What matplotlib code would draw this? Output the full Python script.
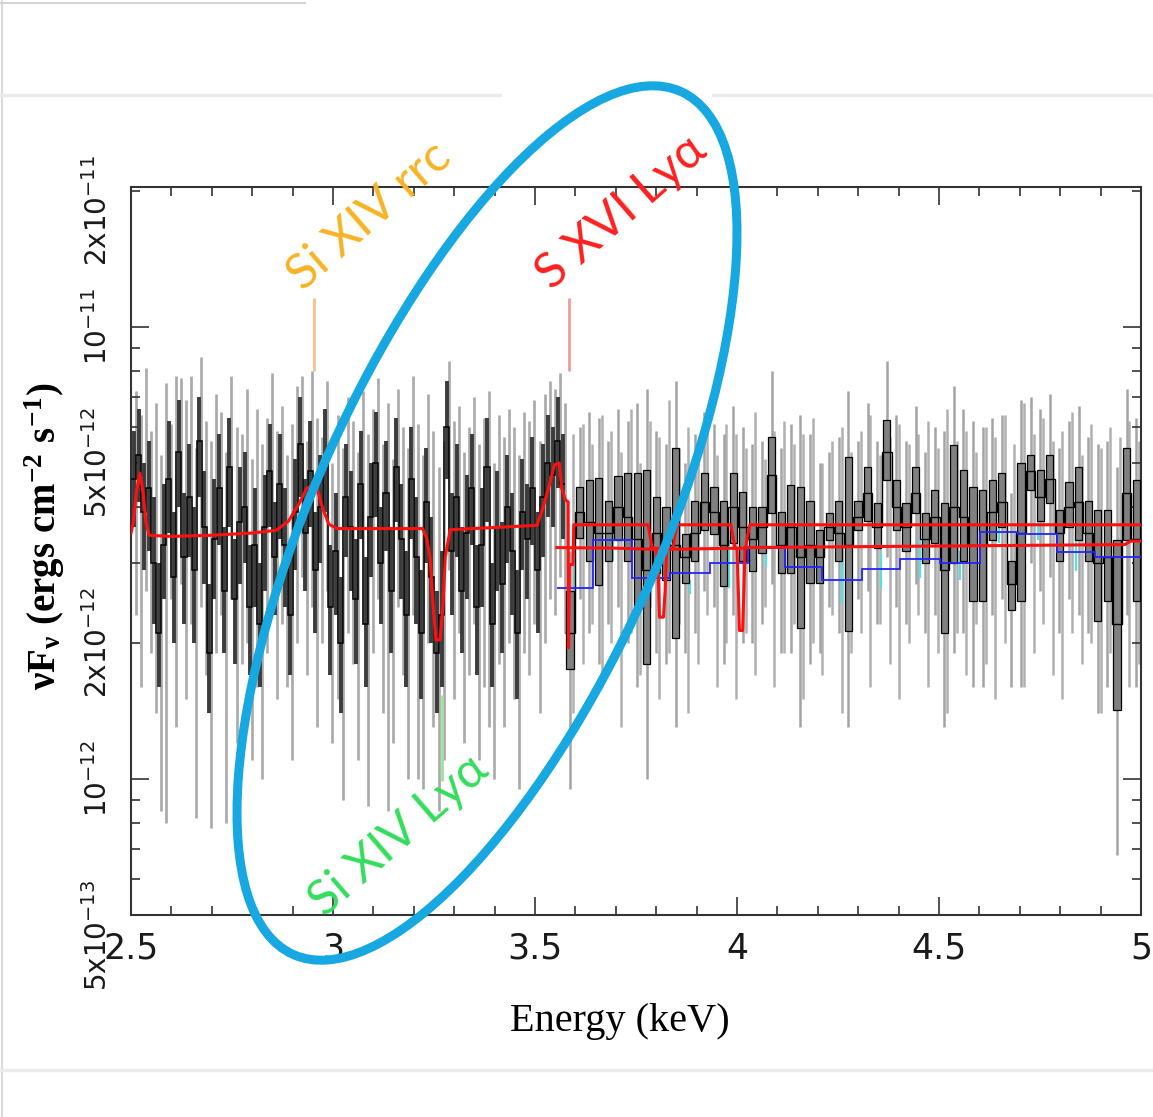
import numpy as np
import matplotlib
matplotlib.use("Agg")
import matplotlib.pyplot as plt
from matplotlib.patches import Ellipse
from matplotlib.transforms import ScaledTranslation

UNIT = 1e-12  # flux values below are in units of 1e-12 ergs cm^-2 s^-1

# ---- fine-binned part of the spectrum (2.5 - 3.575 keV) -------------------
FINE_START, FINE_WIDTH = 2.5, 0.0125
fine_val = [4.6, 5.2, 3.9, 4.4, 3.0, 2.1, 3.3, 4.6, 2.8, 5.3,
            3.1, 4.2, 2.9, 5.6, 3.6, 1.9, 3.4, 4.4, 2.6, 4.9,
            2.5, 3.7, 4.0, 2.4, 3.3, 2.2, 3.6, 4.8, 3.1, 4.5,
            3.3, 2.3, 3.9, 5.5, 3.5, 4.8, 2.9, 4.0, 5.1, 2.4,
            3.2, 2.0, 4.2, 3.6, 2.5, 4.5, 2.2, 3.8, 5.0, 3.0,
            4.3, 2.6, 4.9, 3.4, 2.3, 4.6, 3.1, 2.1, 4.1, 2.8,
            1.9, 2.3, 6.0, 3.2, 4.2, 2.6, 3.5, 4.4, 2.4, 3.3,
            4.9, 2.2, 3.6, 2.7, 4.0, 3.2, 2.1, 3.9, 3.4, 4.4,
            2.9, 4.2, 5.0, 4.7, 5.6, 4.5]
fine_lo = [3.6, 4.1, 2.9, 3.2, 2.2, 1.6, 2.5, 3.5, 2.0, 4.0,
           2.2, 3.1, 2.0, 4.2, 2.7, 1.4, 2.5, 3.3, 1.9, 3.6,
           1.8, 2.7, 3.0, 1.7, 2.4, 1.6, 2.6, 3.6, 2.3, 3.4,
           2.4, 1.7, 2.9, 4.2, 2.6, 3.6, 2.1, 3.0, 3.9, 1.7,
           2.3, 1.4, 3.1, 2.6, 1.8, 3.4, 1.6, 2.8, 3.8, 2.2,
           3.2, 1.9, 3.7, 2.5, 1.6, 3.4, 2.2, 1.5, 3.0, 2.0,
           1.4, 1.6, 4.6, 2.3, 3.1, 1.9, 2.5, 3.3, 1.7, 2.4,
           3.7, 1.6, 2.6, 1.9, 3.0, 2.3, 1.5, 2.9, 2.5, 3.3,
           2.1, 3.1, 3.8, 3.6, 4.4, 3.4]
fine_hi = [5.9, 6.6, 5.0, 5.6, 4.2, 3.0, 4.5, 6.2, 3.9, 6.9,
           4.3, 5.5, 4.0, 7.0, 4.8, 2.7, 4.6, 5.8, 3.6, 6.3,
           3.4, 4.9, 5.3, 3.3, 4.4, 3.0, 4.7, 6.1, 4.1, 5.8,
           4.4, 3.2, 5.1, 7.0, 4.6, 6.2, 3.9, 5.2, 6.6, 3.3,
           4.3, 2.8, 5.5, 4.8, 3.4, 5.9, 3.1, 5.0, 6.5, 4.0,
           5.6, 3.6, 6.3, 4.5, 3.2, 6.0, 4.2, 2.9, 5.4, 3.8,
           2.6, 3.2, 7.6, 4.3, 5.5, 3.6, 4.7, 5.8, 3.3, 4.4,
           6.3, 3.0, 4.8, 3.7, 5.2, 4.3, 2.9, 5.1, 4.5, 5.7,
           3.9, 5.5, 6.4, 6.0, 7.0, 5.8]
# second grating order, same binning (drawn between the first-order bins)
fine2_lo = [2.3, 1.6, 2.6, 1.9, 1.4, 0.85, 0.8, 2.5, 1.3, 2.7,
            1.5, 2.2, 0.82, 2.4, 1.7, 0.78, 1.9, 2.3, 0.8, 2.5,
            1.2, 1.8, 2.0, 1.1, 1.6, 1.0, 1.9, 2.6, 1.5, 2.2,
            1.6, 1.1, 2.0, 2.8, 1.7, 2.4, 1.3, 2.0, 2.6, 1.2,
            1.5, 0.9, 2.1, 1.8, 1.1, 2.2, 0.87, 1.9, 2.5, 1.4,
            0.85, 1.2, 2.4, 1.7, 1.0, 2.3, 1.0, 0.95, 2.0, 1.3,
            0.85, 1.1, 2.9, 1.5, 2.1, 1.2, 1.7, 2.2, 1.1, 1.6,
            1.3, 1.0, 1.8, 1.3, 2.0, 1.5, 0.95, 1.9, 1.7, 2.2,
            1.4, 2.0, 2.5, 2.3, 2.8, 2.1]
fine2_hi = [7.2, 6.4, 8.1, 5.9, 6.8, 5.2, 7.5, 6.1, 7.8, 7.7,
            6.9, 7.8, 5.4, 8.6, 6.2, 5.6, 7.1, 6.5, 5.3, 7.8,
            6.0, 5.8, 7.3, 5.1, 6.6, 5.5, 6.3, 7.9, 5.9, 6.7,
            5.2, 6.1, 7.4, 7.8, 5.6, 8.0, 6.3, 5.7, 7.6, 5.0,
            6.4, 5.4, 7.0, 6.2, 5.3, 7.2, 5.8, 6.6, 7.7, 5.5,
            6.8, 5.1, 7.3, 6.0, 5.4, 7.8, 6.1, 5.2, 7.1, 5.9,
            4.9, 5.6, 8.4, 6.2, 6.7, 5.3, 6.0, 7.0, 5.5, 6.3,
            7.2, 5.0, 6.4, 5.7, 6.6, 6.0, 5.2, 6.5, 6.2, 6.9,
            5.6, 7.1, 7.6, 7.3, 7.9, 6.8]

# ---- coarse-binned part (3.575 - 5.0 keV) --------------------------------
COARSE_START, COARSE_WIDTH = 3.575, 0.02375
coarse_val = [2.1, 3.9, 3.7, 3.5, 3.5, 4.0, 3.8, 3.4, 2.9, 3.5,
              3.3, 3.3, 3.1, 3.5, 4.1, 3.9, 3.3, 4.0, 3.6, 3.4,
              3.6, 4.7, 3.3, 3.6, 3.1, 3.3, 3.1, 3.6, 3.5, 3.3,
              3.8, 4.3, 3.6, 5.3, 4.0, 3.6, 4.3, 3.4, 3.8, 2.9,
              4.0, 3.8, 3.3, 3.3, 3.9, 4.1, 2.7, 3.5, 4.8, 4.2,
              4.6, 3.5, 4.0, 4.1, 3.5, 3.0, 3.1, 2.2, 4.3, 3.4]
coarse_lo = [1.75, 3.42, 3.04, 2.68, 3.04, 3.37, 3.04, 2.39, 1.80, 2.85,
             2.75, 2.05, 2.71, 3.04, 3.55, 3.49, 2.67, 3.32, 3.04, 2.89,
             3.16, 3.87, 2.85, 2.85, 2.16, 2.71, 2.71, 3.37, 3.04, 2.13,
             3.55, 3.73, 3.25, 4.58, 3.55, 3.20, 3.87, 3.00, 3.32, 2.10,
             3.00, 3.04, 2.48, 2.48, 3.37, 3.60, 2.36, 2.48, 4.35, 3.73,
             4.07, 3.04, 3.60, 3.37, 3.04, 2.24, 2.48, 1.42, 3.37, 2.48]
coarse_hi = [2.61, 4.42, 4.58, 4.63, 4.13, 4.67, 4.75, 4.75, 4.82, 4.20,
             3.99, 5.39, 3.49, 4.13, 4.75, 4.42, 4.13, 4.75, 4.31, 3.99,
             3.99, 5.70, 3.89, 4.46, 4.42, 4.13, 3.55, 3.87, 4.13, 5.15,
             4.13, 4.89, 4.07, 6.22, 4.58, 4.07, 4.89, 3.87, 4.35, 4.07,
             5.47, 4.82, 4.42, 4.35, 4.58, 4.75, 3.04, 4.99, 5.20, 4.82,
             5.20, 3.93, 4.53, 4.89, 4.13, 3.93, 3.93, 3.37, 5.39, 4.58]
coarse_wlo = [0.95, 2.5, 2.1, 1.8, 2.2, 2.4, 2.0, 1.6, 1.0, 1.9,
              1.8, 1.3, 1.9, 2.1, 2.6, 2.4, 1.8, 2.3, 2.0, 2.0,
              2.2, 2.7, 1.9, 1.9, 1.3, 1.8, 1.9, 2.4, 2.1, 1.3,
              2.5, 2.6, 2.2, 3.1, 2.4, 2.2, 2.7, 2.1, 2.3, 1.3,
              1.9, 2.1, 1.6, 1.6, 2.3, 2.5, 1.6, 1.6, 3.0, 2.6,
              2.8, 2.1, 2.5, 2.3, 2.1, 1.4, 1.6, 0.68, 2.3, 1.6]
coarse_whi = [3.2, 6.0, 6.5, 6.3, 5.6, 6.6, 6.2, 6.8, 7.3, 5.9,
              5.5, 7.6, 5.0, 5.8, 6.5, 6.1, 5.8, 6.7, 6.0, 5.5,
              5.6, 8.0, 5.4, 6.1, 6.4, 5.8, 5.0, 5.3, 5.7, 7.2,
              5.6, 6.8, 5.6, 8.4, 6.4, 5.6, 6.7, 5.3, 6.0, 5.9,
              7.4, 6.6, 6.2, 6.0, 6.3, 6.4, 4.3, 6.9, 7.0, 6.6,
              7.1, 5.4, 6.2, 6.7, 5.7, 5.5, 5.6, 4.9, 7.3, 6.3]
coarse2_lo = [1.4, 1.8, 2.2, 1.6, 2.0, 1.3, 2.1, 1.7, 2.4, 1.5,
              1.9, 2.2, 1.4, 1.8, 2.3, 1.6, 2.0, 1.5, 2.1, 1.7,
              2.4, 1.6, 1.9, 2.2, 1.5, 2.0, 1.7, 2.3, 1.4, 1.9,
              2.1, 1.6, 2.2, 1.8, 1.5, 2.0, 2.3, 1.6, 1.9, 1.4,
              2.1, 1.7, 2.2, 1.8, 1.5, 2.0, 2.4, 1.6, 1.9, 2.2,
              1.7, 1.5, 2.1, 1.8, 2.0, 1.4, 1.9, 2.2, 1.6, 1.8]
coarse2_hi = [5.8, 6.1, 5.5, 6.4, 5.9, 5.3, 6.6, 5.0, 6.2, 5.7,
              6.9, 5.4, 6.0, 5.6, 6.3, 5.2, 6.1, 5.8, 5.4, 6.5,
              5.1, 5.9, 6.2, 5.5, 5.8, 6.3, 5.0, 5.6, 6.0, 5.3,
              5.9, 6.4, 5.2, 5.7, 6.1, 5.5, 5.8, 6.2, 5.4, 6.6,
              5.6, 5.9, 5.3, 6.0, 5.7, 6.4, 5.5, 6.8, 5.8, 6.3,
              5.6, 5.9, 6.5, 5.2, 6.1, 5.4, 6.0, 5.7, 6.2, 5.6]

# ---- broad-binned comparison spectrum (blue) with its errors (cyan) -------
blue_edges = [3.554, 3.644, 3.740, 3.834, 3.933, 4.027, 4.119, 4.210,
              4.309, 4.403, 4.502, 4.601, 4.696, 4.792, 4.886, 5.0]
blue_val = [2.65, 3.37, 2.79, 2.85, 3.01, 3.24, 2.94, 2.75,
            2.92, 3.07, 3.01, 3.51, 3.49, 3.17, 3.09]
blue_lo = [2.36, 3.04, 2.52, 2.57, 2.65, 2.94, 2.65, 2.44,
           2.65, 2.79, 2.75, 3.32, 3.37, 2.89, 2.79]
blue_hi = [3.04, 3.73, 2.85, 2.75, 3.37, 3.55, 3.16, 3.04,
           3.16, 3.37, 3.20, 3.87, 3.83, 3.49, 3.09]

# ---- model curves ----------------------------------------------------------
model_a_e = [2.500, 2.506, 2.513, 2.522, 2.530, 2.537, 2.545, 2.600, 2.700, 2.800,
             2.860, 2.890, 2.915, 2.935, 2.950, 2.962, 2.975, 2.990, 3.010, 3.100,
             3.222, 3.232, 3.240, 3.248, 3.255, 3.265, 3.272, 3.278, 3.290, 3.400,
             3.505, 3.520, 3.535, 3.548, 3.560, 3.566, 3.575, 3.582, 3.583, 3.585,
             3.594, 3.596, 3.780, 3.786, 3.790, 3.842, 3.846, 3.852, 3.985, 3.991,
             3.995, 4.022, 4.026, 4.032, 5.000]
model_a_v = [3.50, 3.70, 4.30, 4.75, 4.30, 3.70, 3.46, 3.44, 3.46, 3.50,
             3.55, 3.72, 4.05, 4.40, 4.46, 4.35, 3.95, 3.66, 3.58, 3.58,
             3.58, 3.40, 3.09, 2.40, 2.03, 2.03, 2.40, 3.10, 3.56, 3.60,
             3.64, 3.99, 4.45, 4.95, 5.00, 4.40, 4.15, 4.10, 1.95, 2.98,
             2.98, 3.65, 3.65, 3.40, 3.24, 3.24, 3.45, 3.65, 3.65, 3.40,
             3.24, 3.24, 3.45, 3.65, 3.65]
model_b_e = [3.554, 3.700, 3.800, 3.805, 3.808, 3.818, 3.822, 3.826, 4.000,
             4.004, 4.006, 4.014, 4.017, 4.020, 4.960, 4.975, 5.000]
model_b_v = [3.25, 3.24, 3.22, 2.90, 2.28, 2.28, 2.60, 3.22, 3.24,
             2.50, 2.13, 2.13, 2.60, 3.25, 3.30, 3.36, 3.36]

# ---- line identifications --------------------------------------------------
line_names = ["Si XIV rrc", "S XVI Ly\u03b1", "Si XIV Ly\u03b1"]
line_energy = [2.953, 3.584, 3.270]
line_tick_lo = [8.0, 8.0, 0.99]
line_tick_hi = [11.6, 11.6, 1.53]
label_energy = [3.089, 3.713, 3.163]
label_flux = [17.6, 18.0, 0.75]
label_color = ["#f8b323", "#ff1f1f", "#33dd5c"]
tick_color = ["#f8bf90", "#f29a9a", "#9be39b"]


def arr(x):
    return np.asarray(x, dtype=float)


W, H = 1153, 1117
fig = plt.figure(figsize=(W / 100, H / 100), dpi=100)
ax = fig.add_axes([131 / W, (H - 915) / H, 1010 / W, 728 / H])
ax.set_yscale("log")

# fine bins
n_f = len(fine_val)
f_edges = FINE_START + FINE_WIDTH * np.arange(n_f + 1)
f_mid = f_edges[:-1] + FINE_WIDTH / 2
ax.vlines(f_edges[1:] - FINE_WIDTH * 0.1, arr(fine2_lo) * UNIT, arr(fine2_hi) * UNIT,
          color="#a9a9a9", lw=1.9, zorder=1)
ax.vlines(f_mid, arr(fine_lo) * UNIT, arr(fine_hi) * UNIT,
          color="#3c3c3c", lw=2.8, zorder=2)
ax.stairs(arr(fine_val) * UNIT, f_edges, color="black", lw=1.1, baseline=None, zorder=3)

# coarse bins
n_c = len(coarse_val)
c_edges = COARSE_START + COARSE_WIDTH * np.arange(n_c + 1)
c_mid = c_edges[:-1] + COARSE_WIDTH / 2
ax.vlines(c_edges[1:] - COARSE_WIDTH * 0.2, arr(coarse2_lo) * UNIT, arr(coarse2_hi) * UNIT,
          color="#b0b0b0", lw=1.8, zorder=1)
ax.vlines(c_mid, arr(coarse_wlo) * UNIT, arr(coarse_whi) * UNIT,
          color="#a4a4a4", lw=1.8, zorder=1)
blue_mid = (arr(blue_edges[:-1]) + arr(blue_edges[1:])) / 2
ax.vlines(blue_mid, arr(blue_lo) * UNIT, arr(blue_hi) * UNIT,
          color="#55e0e6", lw=1.6, zorder=2)
ax.bar(c_mid, (arr(coarse_hi) - arr(coarse_lo)) * UNIT, bottom=arr(coarse_lo) * UNIT,
       width=COARSE_WIDTH * 0.75, color="#808080", edgecolor="black", lw=0.9, zorder=3)
ax.stairs(arr(coarse_val) * UNIT, c_edges, color="black", lw=1.0, baseline=None, zorder=3)

ax.stairs(arr(blue_val) * UNIT, blue_edges, color="#2424ff", lw=1.3, baseline=None, zorder=4)

ax.plot(model_a_e, arr(model_a_v) * UNIT, color="#ff1010", lw=2.2, zorder=5)
ax.plot(model_b_e, arr(model_b_v) * UNIT, color="#ff1010", lw=2.2, zorder=5)

for name, e, lo, hi, le, lf, lc, tc in zip(line_names, line_energy, line_tick_lo,
                                          line_tick_hi, label_energy, label_flux,
                                          label_color, tick_color):
    ax.vlines(e, lo * UNIT, hi * UNIT, color=tc, lw=2.0, zorder=6)
    ax.text(le, lf * UNIT, name, color=lc, fontsize=35, rotation=41,
            family=["Lato", "DejaVu Sans"], ha="center", va="center",
            rotation_mode="anchor", clip_on=False, zorder=7)

ax.set_xlim(2.5, 5.0)
ax.set_ylim(5e-13, 2.04e-11)

# axis decorations
for sp in ax.spines.values():
    sp.set_linewidth(1.5)
    sp.set_color("#333333")
ax.set_xticks(np.arange(2.5, 5.01, 0.5), ["2.5", "3", "3.5", "4", "4.5", "5"])
ax.set_xticks(np.arange(2.5, 5.01, 0.1), minor=True)
y_major = [5e-13, 1e-12, 2e-12, 5e-12, 1e-11, 2e-11]
y_labels = [r"5x10$^{-13}$", r"10$^{-12}$", r"2x10$^{-12}$", r"5x10$^{-12}$",
            r"10$^{-11}$", r"2x10$^{-11}$"]
ax.set_yticks(y_major, y_labels)
ax.set_yticks([6e-13, 7e-13, 8e-13, 9e-13, 3e-12, 4e-12, 6e-12, 7e-12, 8e-12, 9e-12],
              minor=True)
ax.tick_params(which="both", direction="in", top=True, right=True,
               color="#333333", width=1.2)
ax.tick_params(which="major", length=13)
ax.tick_params(which="minor", length=6.5)
ax.tick_params(axis="x", labelsize=25, pad=12, labelcolor="#1a1a1a")
ax.tick_params(axis="y", labelsize=20, pad=13, labelrotation=90, labelcolor="#1a1a1a")

for tick, val in zip(ax.yaxis.get_major_ticks(), y_major):
    tick.label1.set_va("center")
    tick.label1.set_ha("right")
    if val not in (1e-12, 1e-11):
        tick.tick1line.set_markersize(6.5)
        tick.tick2line.set_markersize(6.5)
    if val in (5e-13, 2e-11):
        tick.label1.set_transform(tick.label1.get_transform()
                                  + ScaledTranslation(0, -0.2, fig.dpi_scale_trans))

fig.text(620 / W, 1 - 1022 / H, "Energy (keV)", ha="center", va="center",
         fontsize=29, family="Liberation Serif")
fig.text(45 / W, 1 - 536 / H,
         "\u03bdF$_{\\mathregular{\u03bd}}$ (ergs cm$^{\\mathregular{-2}}$ s$^{\\mathregular{-1}}$)",
         rotation=90, ha="center", va="center", fontsize=28, fontweight="bold",
         family="Liberation Serif", math_fontfamily="stix")

# page frame and highlight ring, drawn in pixel units over the whole figure
ov = fig.add_axes([0, 0, 1, 1], zorder=10)
ov.set_xlim(0, W)
ov.set_ylim(H, 0)
ov.axis("off")
ov.plot([0, 305], [3, 3], color="#d4d4d4", lw=1.5)
ov.plot([2, 2], [0, H], color="#dadada", lw=1.5)
ov.plot([0, 500], [95, 95], color="#ebebeb", lw=2.5)
ov.plot([713, W], [95, 95], color="#ebebeb", lw=2.5)
ov.plot([0, W], [1070, 1070], color="#ebebeb", lw=2.5)
ov.add_patch(Ellipse((487, 523), 946, 346, angle=-65.8, fill=False,
                     edgecolor="#17a8e2", lw=6.5))

fig.savefig("out.png", dpi=100)
